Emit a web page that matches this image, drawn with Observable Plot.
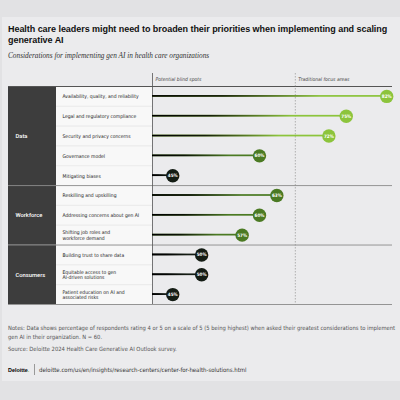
<!DOCTYPE html>
<html>
<head>
<meta charset="utf-8">
<script src="https://cdn.jsdelivr.net/npm/d3@7"></script>
<script src="https://cdn.jsdelivr.net/npm/@observablehq/plot@0.6"></script>
<style>
  html, body { margin: 0; padding: 0; }
  body { width: 400px; height: 400px; overflow: hidden; position: relative; background: #e2e2e4; font-family: 'Liberation Sans Narrow', 'DejaVu Sans Condensed', sans-serif; }
  #card { position: absolute; left: 2px; top: 17px; width: 398px; height: 364px; background: #ebebed; }
  #title { position: absolute; left: 8px; top: 24px; width: 390px; font-family: 'Liberation Sans', Arial, sans-serif; font-weight: bold; font-size: 9px; line-height: 11px; color: #111; letter-spacing: -0.05px; }
  #subtitle { position: absolute; left: 8px; top: 51px; font-family: 'Liberation Serif', serif; font-style: italic; font-size: 7.3px; color: #333; }
  #chart { position: absolute; left: 0; top: 70px; }
  #notes { position: absolute; left: 8px; top: 324px; width: 388px; font-size: 5.8px; line-height: 8.8px; color: #555; }
  #source { position: absolute; left: 8px; top: 346px; font-size: 5.8px; color: #555; }
  #footer { position: absolute; left: 8px; top: 364px; font-size: 6px; color: #333; display: flex; align-items: center; }
  #footer b { font-family: 'Liberation Sans', Arial, sans-serif; font-size: 5.4px; color: #000; }
  #footer b span { color: #86bc25; }
  #footer .sep { display: inline-block; width: 0.8px; height: 11px; background: #999; margin: 0 4px 0 5px; }
</style>
</head>
<body>
<div id="card"></div>
<div id="title"></div>
<div id="subtitle"></div>
<div id="chart"></div>
<div id="notes"></div>
<div id="source"></div>
<div id="footer"></div>
<script>
// ---- data ----
const titleText = "Health care leaders might need to broaden their priorities when implementing and scaling generative AI";
const subtitleText = "Considerations for implementing gen AI in health care organizations";
const columnHeaders = ["Potential blind spots", "Traditional focus areas"];
const groups = ["Data", "Workforce", "Consumers"];
const groupSizes = [5, 3, 3];
const items = [
  "Availability, quality, and reliability",
  "Legal and regulatory compliance",
  "Security and privacy concerns",
  "Governance model",
  "Mitigating biases",
  "Reskilling and upskilling",
  "Addressing concerns about gen AI",
  "Shifting job roles and\nworkforce demand",
  "Building trust to share data",
  "Equitable access to gen\nAI-driven solutions",
  "Patient education on AI and\nassociated risks"
];
const values = [82, 75, 72, 60, 45, 63, 60, 57, 50, 50, 45];
const xDomain = [41.5, 83];
const dividerValue = 66.2;
const colorThresholds = [55, 66];
const notesText = "Notes: Data shows percentage of respondents rating 4 or 5 on a scale of 5 (5 being highest) when asked their greatest considerations to implement gen AI in their organization. N = 60.";
const sourceText = "Source: Deloitte 2024 Health Care Generative AI Outlook survey.";
const footerUrl = "deloitte.com/us/en/insights/research-centers/center-for-health-solutions.html";

// ---- tables ----
const rows = items.map((label, i) => ({label, value: values[i], i}));
let start = 0;
const groupData = groups.map((name, k) => {
  const g = {name, start, end: start + groupSizes[k]};
  start += groupSizes[k];
  return g;
});
const boundaries = [0, ...groupData.map(g => g.end)];
const rowBoundaries = d3.range(1, items.length).filter(v => !boundaries.includes(v));

document.getElementById("title").textContent = titleText;
document.getElementById("subtitle").textContent = subtitleText;
document.getElementById("notes").textContent = notesText;
document.getElementById("source").textContent = sourceText;
const footer = document.getElementById("footer");
footer.innerHTML = '<b>Deloitte<span>.</span></b><span class="sep"></span>';
footer.appendChild(document.createTextNode(footerUrl));

const FONT = "'Liberation Sans Narrow', 'DejaVu Sans Condensed', sans-serif";

const chart = Plot.plot({
  width: 400,
  height: 240,
  marginLeft: 152,
  marginRight: 8,
  marginTop: 16,
  marginBottom: 6,
  style: {background: "transparent", fontFamily: FONT},
  x: {domain: xDomain, axis: null},
  y: {domain: [0, items.length], reverse: true, axis: null},
  color: {type: "threshold", domain: colorThresholds, range: ["#141c14", "#4b7a23", "#8cc43c"]},
  marks: [
    // dark category panel
    Plot.rect(groupData, {x1: xDomain[0], x2: xDomain[1], y1: "start", y2: "end", fill: "#3d3d3d", insetLeft: -144, insetRight: 336}),
    // label panel rows
    Plot.rect(rows, {x1: xDomain[0], x2: xDomain[0], y1: d => d.i, y2: d => d.i + 1, fill: "#f8f8f8", insetLeft: -96}),
    Plot.ruleY(rowBoundaries, {stroke: "#e2e2e2", strokeWidth: 0.6, insetLeft: -96, insetRight: 240}),
    // group lines
    Plot.ruleY(boundaries, {stroke: d => d === 0 ? "#555" : "#8a8a8a", strokeWidth: d => d === 0 ? 1 : 0.9, insetLeft: -144}),
    // vertical dividers
    Plot.ruleX([xDomain[0]], {stroke: "#555", strokeWidth: 0.8, insetTop: -13}),
    Plot.ruleX([dividerValue], {stroke: "#888", strokeWidth: 0.6, strokeDasharray: "1.5,1.5", insetTop: -13}),
    // column headers
    Plot.text(columnHeaders, {x: [xDomain[0], dividerValue], frameAnchor: "top", dy: -6, dx: 3, textAnchor: "start", lineAnchor: "bottom", text: d => d, fontSize: 5, fontStyle: "italic", fill: "#444"}),
    // lollipop stems
    Plot.rect(rows, {x1: xDomain[0], x2: "value", y1: d => d.i, y2: d => d.i + 1, fill: "value", insetTop: 9.05, insetBottom: 9.05}),
    Plot.rect(rows, {x1: xDomain[0], x2: "value", y1: d => d.i, y2: d => d.i + 1, fill: "url(#fade)", insetTop: 9.05, insetBottom: 9.05}),
    // dots
    Plot.dot(rows, {x: "value", y: d => d.i + 0.5, r: 6.7, fill: "value"}),
    Plot.text(rows, {x: "value", y: d => d.i + 0.5, text: d => d.value + "%", fill: "white", fontSize: 4.6, fontWeight: "bold"}),
    // row labels
    Plot.text(rows, {y: d => d.i + 0.5, frameAnchor: "left", dx: -90, textAnchor: "start", text: "label", fontSize: 5, lineHeight: 1.15, fill: "#222"}),
    // group labels
    Plot.text(groupData, {y: d => (d.start + d.end) / 2, frameAnchor: "left", dx: -137, textAnchor: "start", text: "name", fill: "white", fontSize: 5.8, fontWeight: 500, fontFamily: "Roboto, sans-serif"})
  ]
});

const svg = d3.select(chart);
const grad = svg.insert("defs", ":first-child").append("linearGradient")
  .attr("id", "fade").attr("x1", 0).attr("x2", 1).attr("y1", 0).attr("y2", 0);
grad.append("stop").attr("offset", 0).attr("stop-color", "#000").attr("stop-opacity", 1);
grad.append("stop").attr("offset", 0.3).attr("stop-color", "#000").attr("stop-opacity", 0.85);
grad.append("stop").attr("offset", 0.72).attr("stop-color", "#000").attr("stop-opacity", 0);

document.getElementById("chart").appendChild(chart);
</script>
</body>
</html>
